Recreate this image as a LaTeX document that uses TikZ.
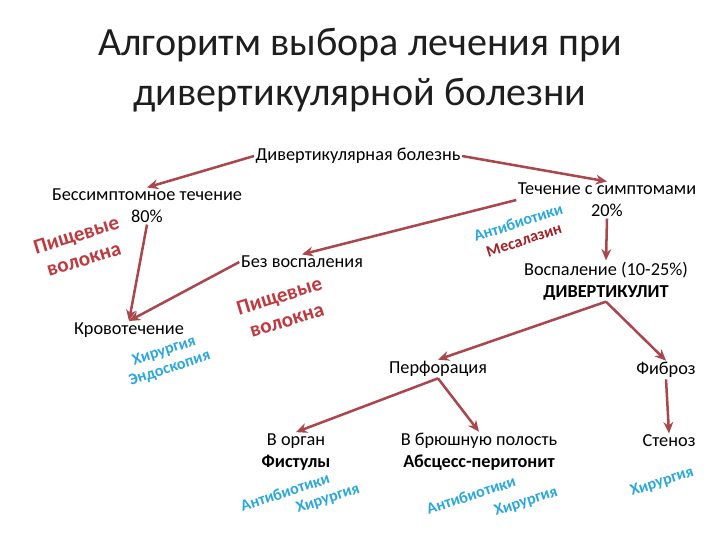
\documentclass[tikz,border=0pt]{standalone}
\usepackage{fontspec}
\setmainfont{Carlito}
\usetikzlibrary{arrows.meta}
\definecolor{arrowred}{HTML}{A9474D}
\definecolor{fibrered}{HTML}{C0393F}
\definecolor{drugblue}{HTML}{2AA8DC}
\definecolor{darkred}{HTML}{A3222A}
\definecolor{titlegray}{HTML}{1E1E1E}

\begin{document}
\begin{tikzpicture}[x=0.025cm,y=-0.025cm,font=\fontsize{13}{15.5}\selectfont,
  box/.style={inner sep=1pt,align=center},
  flow/.style={arrowred,line width=1.8pt,-{Stealth[length=8pt,width=7pt]}},
  hint/.style={font=\fontsize{11.5}{13}\selectfont\bfseries,rotate=18,align=center,drugblue},
  fibre/.style={font=\fontsize{15}{18}\selectfont\bfseries,rotate=17,align=center,fibrered}]
  \useasboundingbox (0,0) rectangle (720,540);
  \node[titlegray,align=center,font=\fontsize{28.5}{35.5}\selectfont] (title) at (360,70) {Алгоритм выбора лечения при\\дивертикулярной болезни};
  % tree
  \node[box] (dis) at (358,156) {Дивертикулярная болезнь};
  \node[box] (asym) at (147,206) {Бессимптомное течение\\80\%};
  \node[box] (sympt) at (607,200) {Течение с симптомами\\20\%};
  \node[box] (noinf) at (302,262) {Без воспаления};
  \node[box] (infl) at (606,281) {Воспаление (10-25\%)\\\textbf{ДИВЕРТИКУЛИТ}};
  \node[box] (bleed) at (129,330) {Кровотечение};
  \node[box] (perf) at (438,369) {Перфорация};
  \node[box] (fib) at (666,370) {Фиброз};
  \node[box] (organ) at (296,452) {В орган\\\textbf{Фистулы}};
  \node[box] (abd) at (479,452) {В брюшную полость\\\textbf{Абсцесс-перитонит}};
  \node[box] (sten) at (669,441) {Стеноз};
  % treatment
  \node[fibre] (fibre1) at (80,247) {Пищевые\\волокна};
  \node[fibre] (fibre2) at (283,308) {Пищевые\\волокна};
  \node[hint] (drug1) at (521,231) {Антибиотики\\\textcolor{darkred}{Месалазин}};
  \node[hint] (surg1) at (167,360) {Хирургия\\Эндоскопия};
  \node[hint] (drug2) at (285,492) {Антибиотики};
  \node[hint] (surg2) at (328,499) {Хирургия};
  \node[hint] (drug3) at (471,495) {Антибиотики};
  \node[hint] (surg3) at (526,502) {Хирургия};
  \node[hint] (surg4) at (662,482) {Хирургия};
  % arrows
  \draw[flow] (dis.east) -- (sympt.north);
  \draw[flow] (dis.west) -- (asym.north);
  \draw[flow] (asym.south) -- (bleed.north);
  \draw[flow] (noinf.west) -- (bleed.north);
  \draw[flow] (sympt.west) -- (noinf.north);
  \draw[flow] (sympt.south) -- (infl.north);
  \draw[flow] (infl.south) -- (perf.north);
  \draw[flow] (infl.south) -- (fib.north);
  \draw[flow] (perf.south) -- (organ.north);
  \draw[flow] (perf.south) -- (abd.north);
  \draw[flow] (fib.south) -- (sten.north);
\end{tikzpicture}
\end{document}
